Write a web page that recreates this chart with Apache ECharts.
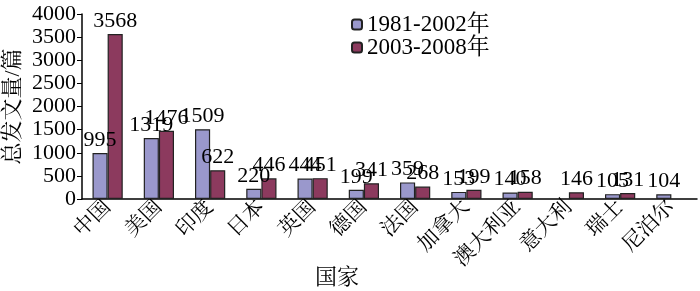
<!DOCTYPE html>
<html><head><meta charset="utf-8">
<script src="https://cdn.jsdelivr.net/npm/echarts@6/dist/echarts.min.js"></script>
<style>html,body{margin:0;padding:0;background:#fff}#c{width:700px;height:291px}</style>
</head><body><div id="c"></div>
<script>
const categories = ['中国','美国','印度','日本','英国','德国','法国','加拿大','澳大利亚','意大利','瑞士','尼泊尔'];
const series1Name = '1981-2002年';
const series2Name = '2003-2008年';
const series1 = [995,1319,1509,220,444,199,359,153,140,null,105,104];
const series2 = [3568,1476,622,446,451,341,268,199,158,146,131,null];
const yTicks = {min:0,max:4000,interval:500};

const font = '"Liberation Serif","Times New Roman",serif';
const cjk = '"Liberation Serif","Noto Serif CJK SC","Noto Sans CJK SC",serif';
const chart = echarts.init(document.getElementById('c'));
const lbl = {show:true,position:'top',distance:2,color:'#000',fontFamily:font,fontSize:22};
chart.setOption({
  animation:false,
  grid:{left:82,right:3,top:14,bottom:92,containLabel:false,outerBoundsMode:'none'},
  legend:{orient:'vertical',left:346,top:8,itemWidth:10,itemHeight:10,itemGap:0,
    textStyle:{fontFamily:cjk,fontSize:23,color:'#000'},
    data:[series1Name,series2Name]},
  xAxis:{type:'category',data:categories,
    axisLine:{lineStyle:{color:'#000',width:1.5}},
    axisTick:{inside:true,length:5,lineStyle:{color:'#000'}},
    axisLabel:{rotate:45,margin:5,color:'#000',fontFamily:cjk,fontSize:21,interval:0,hideOverlap:false},
    name:'国家',nameLocation:'middle',nameGap:68,nameMoveOverlap:false,
    nameTextStyle:{fontFamily:cjk,fontSize:22,color:'#000',padding:[0,105,0,0]}},
  yAxis:{type:'value',min:yTicks.min,max:yTicks.max,interval:yTicks.interval,
    axisLine:{show:true,lineStyle:{color:'#000',width:1.5}},
    axisTick:{show:true,length:5,lineStyle:{color:'#000'}},
    splitLine:{show:false},
    axisLabel:{color:'#000',fontFamily:font,fontSize:22,margin:6,
      showMinLabel:true,showMaxLabel:true,hideOverlap:false,
      formatter:function(v){return String(v);}},
    name:'总发文量/篇',nameLocation:'middle',nameGap:58,nameMoveOverlap:false,
    nameTextStyle:{fontFamily:cjk,fontSize:22,color:'#000'}},
  series:[
    {name:series1Name,type:'bar',data:series1,barGap:'0%',barCategoryGap:'41%',
     itemStyle:{color:'#9a98cc',borderColor:'#222',borderWidth:1.2},label:lbl},
    {name:series2Name,type:'bar',data:series2,
     itemStyle:{color:'#8c3a5e',borderColor:'#222',borderWidth:1.2},label:lbl}
  ]
});
</script></body></html>
